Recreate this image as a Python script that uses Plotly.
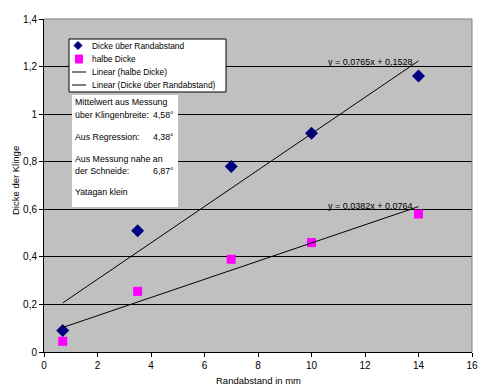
import plotly.graph_objects as go
import numpy as np

# ---- data ----
randabstand = [0.7, 3.5, 7, 10, 14]
dicke = [0.09, 0.51, 0.78, 0.92, 1.16]
halbe_dicke = [0.045, 0.255, 0.39, 0.46, 0.58]
fit_dicke = (0.0765, 0.1528)   # slope, intercept
fit_halbe = (0.0382, 0.0764)
eq_dicke = "y = 0,0765x + 0,1528"
eq_halbe = "y = 0,0382x + 0,0764"
legend_names = ["Dicke über Randabstand", "halbe Dicke",
                "Linear (halbe Dicke)", "Linear (Dicke über Randabstand)"]
info_lines = [("Mittelwert aus Messung", ""),
              ("über Klingenbreite:", "4,58°"),
              ("Aus Regression:", "4,38°"),
              ("Aus Messung nahe an", ""),
              ("der Schneide:", "6,87°"),
              ("Yatagan klein", "")]
x_title = "Randabstand in mm"
y_title = "Dicke der Klinge"

# ---- layout geometry (page body has an 8px margin) ----
OFF = 8
W, H = 489 - OFF, 391 - OFF
PL, PR, PT, PB = 44, 472, 19, 352          # target plot area in window pixels
ML, MT = PL - OFF, PT - OFF
MR = (W + OFF) - PR
MB = (H + OFF) - PB
PW, PH = PR - PL, PB - PT
FONT = "Liberation Sans, Arial, sans-serif"


def px(x):
    return (x - PL) / PW


def py(y):
    return (PB - y) / PH


xs = np.array([min(randabstand), max(randabstand)])

fig = go.Figure()
fig.add_trace(go.Scatter(x=randabstand, y=dicke, mode="markers", name=legend_names[0],
                         marker=dict(symbol="diamond", size=10, color="#000080")))
fig.add_trace(go.Scatter(x=randabstand, y=halbe_dicke, mode="markers", name=legend_names[1],
                         marker=dict(symbol="square", size=9, color="#FF00FF")))
fig.add_trace(go.Scatter(x=xs, y=fit_halbe[0] * xs + fit_halbe[1], mode="lines",
                         name=legend_names[2], line=dict(color="black", width=1)))
fig.add_trace(go.Scatter(x=xs, y=fit_dicke[0] * xs + fit_dicke[1], mode="lines",
                         name=legend_names[3], line=dict(color="black", width=1)))

shapes = []
annotations = []

# plot border (gray top/right)
shapes.append(dict(type="line", xref="paper", yref="paper", x0=0, x1=1, y0=1, y1=1,
                   line=dict(color="#808080", width=1), layer="above"))
shapes.append(dict(type="line", xref="paper", yref="paper", x0=1, x1=1, y0=0, y1=1,
                   line=dict(color="#808080", width=1), layer="above"))

# custom legend
shapes.append(dict(type="rect", xref="paper", yref="paper",
                   x0=px(69), x1=px(226), y0=py(92), y1=py(39),
                   fillcolor="white", line=dict(color="black", width=1), layer="above"))
leg_y = [45.5, 59, 72, 85]
for i, (name, yy) in enumerate(zip(legend_names, leg_y)):
    annotations.append(dict(xref="paper", yref="paper", x=px(90), y=py(yy), text=name,
                            showarrow=False, xanchor="left", yanchor="middle",
                            font=dict(size=8.4, family=FONT, color="black")))
    if i == 0:
        shapes.append(dict(type="path", xref="paper", yref="paper", xsizemode="pixel",
                           ysizemode="pixel", xanchor=px(78), yanchor=py(yy),
                           path="M 0 4 L 4 0 L 0 -4 L -4 0 Z",
                           fillcolor="#000080", line=dict(color="#000080", width=1),
                           layer="above"))
    elif i == 1:
        shapes.append(dict(type="path", xref="paper", yref="paper", xsizemode="pixel",
                           ysizemode="pixel", xanchor=px(79), yanchor=py(yy),
                           path="M -3.5 -4 L 3.5 -4 L 3.5 4 L -3.5 4 Z",
                           fillcolor="#FF00FF", line=dict(color="#FF00FF", width=1),
                           layer="above"))
    else:
        shapes.append(dict(type="line", xref="paper", yref="paper",
                           x0=px(72), x1=px(86), y0=py(yy), y1=py(yy),
                           line=dict(color="black", width=1), layer="above"))

# info text box
shapes.append(dict(type="rect", xref="paper", yref="paper",
                   x0=px(72), x1=px(178), y0=py(207), y1=py(95),
                   fillcolor="white", line=dict(width=0), layer="above"))
info_y = [102, 115, 137, 159, 171.5, 192]
for (left, right), yy in zip(info_lines, info_y):
    annotations.append(dict(xref="paper", yref="paper", x=px(73), y=py(yy), text=left,
                            showarrow=False, xanchor="left", yanchor="middle",
                            font=dict(size=8.8, family=FONT, color="black")))
    if right:
        annotations.append(dict(xref="paper", yref="paper", x=px(176), y=py(yy), text=right,
                                showarrow=False, xanchor="right", yanchor="middle",
                                font=dict(size=8.8, family=FONT, color="black")))

# equations
annotations.append(dict(xref="paper", yref="paper", x=px(370), y=py(62), text=eq_dicke,
                        showarrow=False, xanchor="center", yanchor="middle",
                        font=dict(size=9, family=FONT, color="black")))
annotations.append(dict(xref="paper", yref="paper", x=px(370), y=py(206), text=eq_halbe,
                        showarrow=False, xanchor="center", yanchor="middle",
                        font=dict(size=9, family=FONT, color="black")))

# axis titles
annotations.append(dict(xref="paper", yref="paper", x=px(258), y=py(380), text=x_title,
                        showarrow=False, xanchor="center", yanchor="middle",
                        font=dict(size=9.5, family=FONT, color="black")))
annotations.append(dict(xref="paper", yref="paper", x=px(15), y=py(181), text=y_title,
                        showarrow=False, xanchor="center", yanchor="middle", textangle=-90,
                        font=dict(size=9.5, family=FONT, color="black")))

fig.update_layout(
    width=W, height=H,
    margin=dict(l=ML, r=MR, t=MT, b=MB, pad=0),
    paper_bgcolor="white", plot_bgcolor="#C0C0C0",
    showlegend=False,
    separators=",.",
    font=dict(family=FONT, size=10, color="black"),
    shapes=shapes, annotations=annotations,
    xaxis=dict(range=[0, 16], dtick=2, tick0=0, showgrid=False, zeroline=False,
               showline=True, linecolor="black", linewidth=1,
               ticks="outside", ticklen=4, tickcolor="black", automargin=False,
               tickfont=dict(size=10, family=FONT, color="black")),
    yaxis=dict(range=[0, 1.4], dtick=0.2, tick0=0, showgrid=True, gridcolor="black",
               gridwidth=1, zeroline=False, showline=True, linecolor="black", linewidth=1,
               ticks="outside", ticklen=4, tickcolor="black", automargin=False,
               tickfont=dict(size=10, family=FONT, color="black")),
)

fig.write_html("out.html")
